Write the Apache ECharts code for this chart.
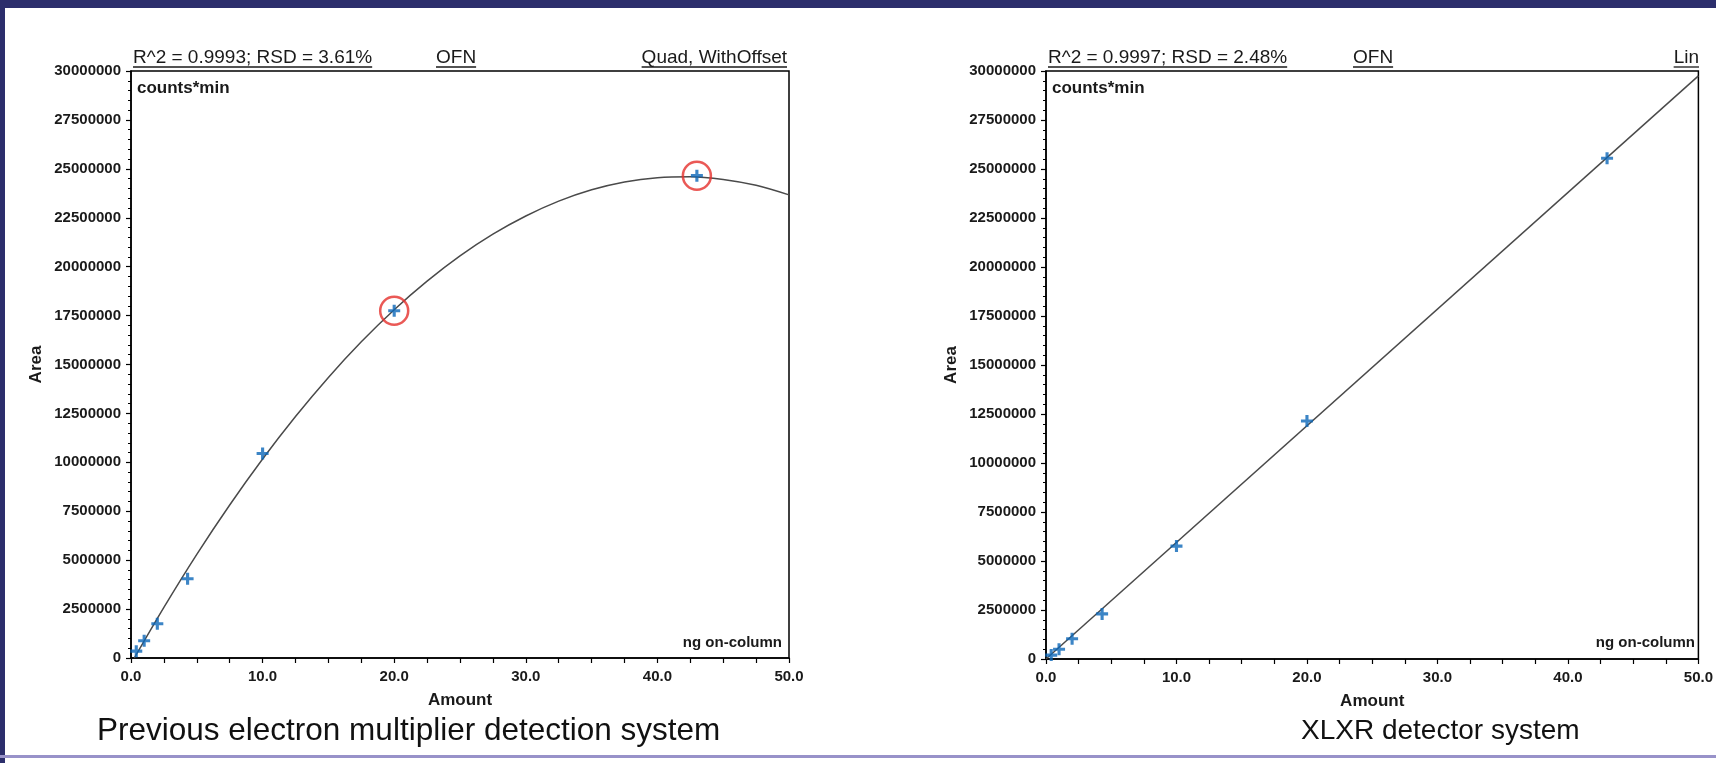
<!DOCTYPE html>
<html><head><meta charset="utf-8">
<script src="https://cdn.jsdelivr.net/npm/echarts@6/dist/echarts.min.js"></script>
<style>html,body{margin:0;padding:0;background:#fff}#c{width:1716px;height:763px}</style>
</head><body><div id="c"></div>
<script>
// ---- data ----
const amounts = [0.4, 1.0, 2.0, 4.3, 10.0, 20.0, 43.0];
const areaPrev = [350000, 880000, 1750000, 4050000, 10450000, 17750000, 24650000];
const areaXLXR = [200000, 500000, 1030000, 2300000, 5760000, 12140000, 25550000];
const flaggedPrevIdx = [5, 6];
// calibration curves
const fitPrevX = [0.25, 2.5, 5, 7.5, 10, 12.5, 15, 17.5, 20, 22.5, 25, 27.5, 30, 32.5, 35, 37.5, 40, 42.5, 45, 47.5, 50];
const fitPrevY = [0, 2590000, 5300000, 7820000, 10170000, 12340000, 14340000, 16160000, 17800000, 19260000, 20550000, 21660000, 22590000, 23350000, 23930000, 24330000, 24550000, 24600000, 24460000, 24160000, 23670000];
const fitXLXRX = [0, 50];
const fitXLXRY = [0, 29750000];
const xTickLabels = ['0.0', '10.0', '20.0', '30.0', '40.0', '50.0'];
const yTickLabels = ['0', '2500000', '5000000', '7500000', '10000000', '12500000', '15000000', '17500000', '20000000', '22500000', '25000000', '27500000', '30000000'];
const titlesLeft = ['R^2 = 0.9993; RSD = 3.61%', 'OFN', 'Quad, WithOffset'];
const titlesRight = ['R^2 = 0.9997; RSD = 2.48%', 'OFN', 'Lin'];
const captions = ['Previous electron multiplier detection system', 'XLXR detector system'];

// ---- chart ----
const FONT = '"Liberation Sans", Arial, sans-serif';
const INK = '#1a1a1a';
const chart = echarts.init(document.getElementById('c'), null, {renderer: 'canvas'});
const pair = (xs, ys) => xs.map((x, i) => [x, ys[i]]);
const plusPath = 'path://M3.7,0H6.3V3.7H10V6.3H6.3V10H3.7V6.3H0V3.7H3.7Z';

const grids = [
  {left: 131, top: 71, width: 658, height: 587},
  {left: 1046, top: 71, width: 655, height: 588}
];

function xAxis(gi) {
  return {
    gridIndex: gi, type: 'value', min: 0, max: 50, interval: 2.5, offset: 3,
    name: 'Amount', nameLocation: 'middle', nameGap: 31,
    nameTextStyle: {fontFamily: FONT, fontWeight: 'bold', fontSize: 17, color: INK},
    axisLine: {show: true, lineStyle: {color: '#000', width: 1.5}},
    axisTick: {show: true, length: 5, lineStyle: {color: '#000', width: 1.2}},
    axisLabel: {
      fontFamily: FONT, fontWeight: 'bold', fontSize: 15, color: INK, margin: 8,
      formatter: v => (Math.abs(v % 10) < 1e-9 ? xTickLabels[Math.round(v / 10)] : '')
    },
    splitLine: {show: false}
  };
}
function yAxis(gi) {
  return {
    gridIndex: gi, type: 'value', min: 0, max: 30000000, interval: 2500000, offset: 4,
    name: 'Area', nameLocation: 'middle', nameGap: 82,
    nameTextStyle: {fontFamily: FONT, fontWeight: 'bold', fontSize: 17, color: INK},
    axisLine: {show: true, lineStyle: {color: '#000', width: 1.5}},
    axisTick: {show: true, length: 5, lineStyle: {color: '#000', width: 1.2}},
    minorTick: {show: true, splitNumber: 5, length: 3, lineStyle: {color: '#000', width: 1}},
    axisLabel: {
      fontFamily: FONT, fontWeight: 'bold', fontSize: 15, color: INK, margin: 6,
      formatter: v => yTickLabels[Math.round(v / 2500000)]
    },
    splitLine: {show: false}, minorSplitLine: {show: false}
  };
}

const markerStyle = {color: '#0b66b8'};

// text measuring for underlines
const mctx = document.createElement('canvas').getContext('2d');
function underlined(x, y, text, align, size) {
  const font = size + 'px ' + FONT;
  mctx.font = font;
  const w = mctx.measureText(text).width;
  const x0 = align === 'right' ? x - w : (align === 'center' ? x - w / 2 : x);
  return [
    {type: 'text', x: x, y: y, style: {text: text, font: font, fill: INK, align: align, verticalAlign: 'middle'}},
    {type: 'line', shape: {x1: x0, y1: y + 9, x2: x0 + w, y2: y + 9}, style: {stroke: INK, lineWidth: 1.3}}
  ];
}

const graphics = [
  {type: 'rect', shape: {x: 0, y: 0, width: 1716, height: 8}, style: {fill: '#2c2e6c'}},
  {type: 'rect', shape: {x: 0, y: 0, width: 5, height: 763}, style: {fill: '#2c2e6c'}},
  {type: 'rect', shape: {x: 0, y: 755, width: 1716, height: 3}, style: {fill: '#9892c9'}},
  ...underlined(133, 58, titlesLeft[0], 'left', 19),
  ...underlined(436, 58, titlesLeft[1], 'left', 19),
  ...underlined(787, 58, titlesLeft[2], 'right', 19),
  ...underlined(1048, 58, titlesRight[0], 'left', 19),
  ...underlined(1353, 58, titlesRight[1], 'left', 19),
  ...underlined(1699, 58, titlesRight[2], 'right', 19),
  {type: 'text', x: 137, y: 88, style: {text: 'counts*min', font: 'bold 17px ' + FONT, fill: INK, verticalAlign: 'middle'}},
  {type: 'text', x: 1052, y: 88, style: {text: 'counts*min', font: 'bold 17px ' + FONT, fill: INK, verticalAlign: 'middle'}},
  {type: 'text', x: 782, y: 643, style: {text: 'ng on-column', font: 'bold 15px ' + FONT, fill: INK, align: 'right', verticalAlign: 'middle'}},
  {type: 'text', x: 1695, y: 643, style: {text: 'ng on-column', font: 'bold 15px ' + FONT, fill: INK, align: 'right', verticalAlign: 'middle'}},
  {type: 'text', x: 97, y: 731, style: {text: captions[0], font: '31.5px ' + FONT, fill: '#111', verticalAlign: 'middle'}},
  {type: 'text', x: 1301, y: 731, style: {text: captions[1], font: '28px ' + FONT, fill: '#111', verticalAlign: 'middle'}}
];

chart.setOption({
  backgroundColor: '#fff',
  animation: false,
  grid: grids.map(g => Object.assign({show: true, borderColor: '#000', borderWidth: 1.5, backgroundColor: '#fff'}, g)),
  xAxis: [xAxis(0), xAxis(1)],
  yAxis: [yAxis(0), yAxis(1)],
  series: [
    {type: 'line', xAxisIndex: 0, yAxisIndex: 0, data: pair(fitPrevX, fitPrevY), smooth: 0.3, symbol: 'none',
     lineStyle: {color: '#4a4a4a', width: 1.5}, z: 2},
    {type: 'scatter', xAxisIndex: 0, yAxisIndex: 0, data: pair(amounts, areaPrev), symbol: plusPath, symbolSize: 12,
     itemStyle: markerStyle, z: 3},
    {type: 'scatter', xAxisIndex: 0, yAxisIndex: 0, data: flaggedPrevIdx.map(i => [amounts[i], areaPrev[i]]), symbol: 'circle', symbolSize: 28,
     itemStyle: {color: 'rgba(0,0,0,0)', borderColor: '#e5302c', borderWidth: 2.5}, z: 4},
    {type: 'line', xAxisIndex: 1, yAxisIndex: 1, data: pair(fitXLXRX, fitXLXRY), symbol: 'none',
     lineStyle: {color: '#4a4a4a', width: 1.5}, z: 2},
    {type: 'scatter', xAxisIndex: 1, yAxisIndex: 1, data: pair(amounts, areaXLXR), symbol: plusPath, symbolSize: 12,
     itemStyle: markerStyle, z: 3}
  ],
  graphic: graphics
});
</script>
</body></html>
